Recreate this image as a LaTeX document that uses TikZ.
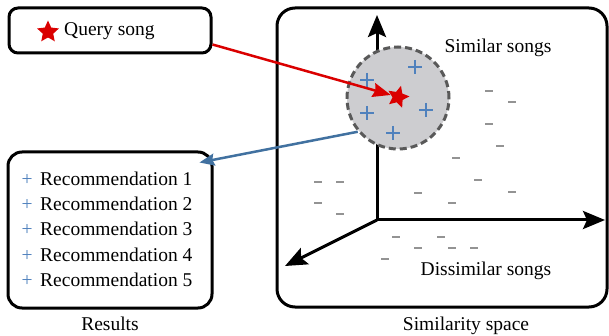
\documentclass[tikz,border=0pt]{standalone}
\usepackage{fontspec}
\setmainfont{Liberation Serif}
\usetikzlibrary{arrows.meta,shapes.geometric}
\definecolor{qred}{RGB}{218,0,0}
\definecolor{recblue}{RGB}{65,113,160}
\definecolor{plusblue}{RGB}{79,129,189}
\definecolor{simgray}{RGB}{205,205,208}

\begin{document}
\begin{tikzpicture}[x=1pt,y=-1pt,font=\fontsize{19.5}{23}\selectfont,
  box/.style={draw,line width=3pt,rounded corners=14pt,inner sep=0pt},
  songstar/.style={star,star points=5,star point ratio=2.1,minimum size=23pt,inner sep=0pt,fill=qred},
  axis/.style={line width=3pt,-{Stealth[length=22pt,width=18pt,inset=4pt]}},
  plusline/.style={plusblue,line width=1.3pt},
  minusline/.style={gray!85,line width=1.6pt}]
\useasboundingbox (0,0) rectangle (609,336);

% query and results on the left
\node[box,rounded corners=9pt,minimum width=202pt,minimum height=45pt] (query) at (110,30.5) {};
\node[songstar] (qicon) at (48,32) {};
\node[anchor=base west,inner sep=0pt] (qtext) at (64,36) {Query song};
\node[box,minimum width=204pt,minimum height=156pt] (results) at (110,230) {};
\foreach \i in {1,...,5} {
\node[anchor=base,inner sep=0pt,text=plusblue] (plus\i) at (27,161+25*\i) {+};
\node[anchor=base west,inner sep=0pt] (rec\i) at (40,161+25*\i) {Recommendation \i};
}
\node[anchor=base] (restitle) at (110,330) {Results};

% similarity space
\node[box,rounded corners=18pt,minimum width=330pt,minimum height=299pt] (space) at (442,157.5) {};
\node[anchor=base] (spacetitle) at (466,330) {Similarity space};
\coordinate (o) at (377,220);
\coordinate (yend) at (377,15);
\coordinate (xend) at (605,220);
\coordinate (zend) at (285,266);
\draw[axis] (o) -- (yend);
\draw[axis] (o) -- (xend);
\draw[axis] (o) -- (zend);
\foreach \x/\y in {489/91,512/102,489/124,500/146,456/158,318/182,340/182,318/203,340/214,
  418/193,478/180,512/192,452/203,396/237,441/237,418/248,452/248,474/248,385/259} {
\draw[minusline] (\x-4,\y) -- (\x+4,\y);
}
\node[circle,draw=black!65,fill=simgray,line width=3pt,dash pattern=on 7pt off 4pt,minimum size=102pt] (simcircle) at (398,98) {};
\foreach \x/\y in {415/67,367/80,367/113,426/110,393/133} {
\draw[plusline] (\x-7,\y) -- (\x+7,\y) (\x,\y-7) -- (\x,\y+7);
}
\node[songstar,rotate=-15] (qstar) at (398,97) {};
\node[anchor=base] (simtext) at (498,53) {Similar songs};
\node[anchor=base] (distext) at (486,275) {Dissimilar songs};

\draw[qred,line width=2.5pt,-{Stealth[length=18pt,width=14pt,inset=2pt]}] ([yshift=-14pt]query.east) -- (qstar);
\draw[recblue,line width=2.5pt,-{Stealth[length=15pt,width=12pt,inset=2pt]}] (simcircle.220) -- ([xshift=-14pt,yshift=-12pt]results.north east);
\end{tikzpicture}
\end{document}
